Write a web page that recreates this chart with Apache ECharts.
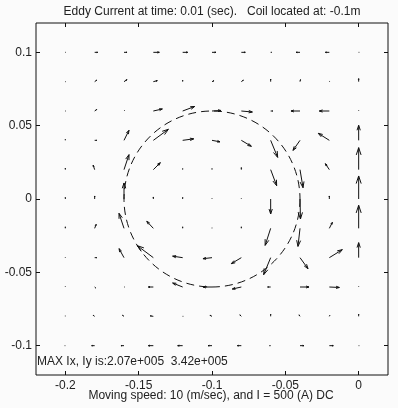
<!DOCTYPE html>
<html>
<head>
<meta charset="utf-8">
<title>Eddy Current</title>
<script src="https://cdn.jsdelivr.net/npm/echarts@6/dist/echarts.min.js"></script>
<style>
    html, body { margin: 0; padding: 0; background: #fbfbfb; }
    #chart { width: 398px; height: 408px; }
</style>
</head>
<body>
<div id="chart"></div>
<script>
// grid of sample points (m)
var gridX = [-0.2, -0.18, -0.16, -0.14, -0.12, -0.1, -0.08, -0.06, -0.04, -0.02, 0];
var gridY = [0.1, 0.08, 0.06, 0.04, 0.02, 0, -0.02, -0.04, -0.06, -0.08, -0.1];

// current density components, unit 1e4 A/m^2, one row per gridY value
var ixRows = [
    [0.7, 4.5, 4.5, 8.9, 7.4, 5.9, 5.9, 1.5, -5.9, -5.9, 0.7],
    [0.7, 3.0, 4.5, 5.9, 0, 3.0, 3.0, 0, 0.7, 0.7, 0],
    [0.7, 3.0, 0.7, 13.4, 17.8, 13.4, 16.4, 3.0, -13.4, -14.9, 0],
    [0, 3.0, 7.4, 22.3, 16.4, 11.9, 14.9, 10.4, -10.4, -16.4, 0],
    [0, -2.2, 7.4, 10.4, 0, 0, 0, 8.9, 4.5, -5.9, 0],
    [0, 0, 0, 0, 0, 0, 0, 0, 0.7, 0, 0],
    [0, 2.2, -7.4, -9.7, 0, 0, 0, -8.2, -3.0, 4.5, 0],
    [0, 3.0, -7.4, -23.8, -14.9, -13.4, -14.9, -10.4, 11.9, 19.3, 0],
    [0, 1.5, 0.7, -7.4, -14.9, -13.4, -13.4, -4.5, 13.4, 14.9, 0],
    [0, -2.2, -2.2, -4.5, 0.7, -3.0, -2.2, 0, -1.5, 0.7, 0],
    [-0.7, -4.5, -4.5, -7.4, -7.4, -5.9, -5.9, -1.5, 5.9, 5.9, 0.7]
];
var iyRows = [
    [0, 0, 0, 0, 0, 0, 0, 0, 0, 0, 0],
    [0, 2.2, 3.0, 1.5, 2.2, 1.5, 2.2, 3.7, 3.0, 0.7, 4.5],
    [0, 2.2, 0.7, 3.0, 6.7, 0.7, -1.5, 0, 0, 0, 0.7],
    [1.5, 0, 14.9, 16.4, 2.2, -2.2, -8.9, -25.3, -14.9, 10.4, 22.3],
    [2.2, 6.7, 22.3, 10.4, 1.5, 1.5, 3.0, -23.8, -26.8, 8.9, 32.7],
    [2.2, 4.5, 23.8, 3.0, 2.2, 0.7, 0.7, -22.3, -29.7, 4.5, 34.2],
    [2.2, 5.9, 22.3, 10.4, 2.2, 0.7, 2.2, -25.3, -26.8, 8.9, 34.2],
    [0.7, 0, 13.4, 17.8, 2.2, -1.5, -8.9, -25.3, -16.4, 11.9, 22.3],
    [0.7, -1.5, 0, 0, 5.9, 0, -3.0, 0, 0, -0.7, 0.7],
    [0.7, 1.5, 1.5, 0.7, 0, 1.5, 2.2, 3.0, 2.2, 1.5, 3.0],
    [0, 0, 0, 0, 0, 0, 0, 0, 0, 0, 0]
];

// coil outline: center x, center y, radius (m)
var coil = [-0.1, 0, 0.06];

var xTicks = [-0.2, -0.15, -0.1, -0.05, 0];
var yTicks = [-0.1, -0.05, 0, 0.05, 0.1];

var titleText = 'Eddy Current at time: 0.01 (sec).   Coil located at: -0.1m';
var xName = 'Moving speed: 10 (m/sec), and I = 500 (A) DC';
var maxText = 'MAX Ix, Iy is:2.07e+005  3.42e+005';

// metres of arrow per 1e4 A/m^2 (quiver auto scale)
var quiverScale = 0.000459;
var fontName = '"Liberation Sans", Arial, sans-serif';

function buildQuiverData() {
    var out = [];
    for (var r = 0; r < gridY.length; r++) {
        for (var c = 0; c < gridX.length; c++) {
            out.push([gridX[c], gridY[r], ixRows[r][c], iyRows[r][c]]);
        }
    }
    return out;
}

// arrow like matlab quiver: shaft + two barbs (alpha = beta = 0.33)
function renderArrow(params, api) {
    var x = api.value(0), y = api.value(1);
    var u = api.value(2) * quiverScale, v = api.value(3) * quiverScale;
    var p0 = api.coord([x, y]);
    var p1 = api.coord([x + u, y + v]);
    var dx = p1[0] - p0[0], dy = p1[1] - p0[1];
    var a = 0.33, b = 0.33;
    var h1 = [p1[0] - a * (dx + b * dy), p1[1] - a * (dy - b * dx)];
    var h2 = [p1[0] - a * (dx - b * dy), p1[1] - a * (dy + b * dx)];
    var style = { stroke: '#111', lineWidth: 1, fill: null };
    return {
        type: 'group',
        children: [
            { type: 'line', shape: { x1: p0[0], y1: p0[1], x2: p1[0], y2: p1[1] }, style: style },
            { type: 'polyline', shape: { points: [h1, p1, h2] }, style: style }
        ]
    };
}

function renderCoil(params, api) {
    var c = api.coord([api.value(0), api.value(1)]);
    var r = api.size([api.value(2), api.value(2)]);
    return {
        type: 'circle',
        shape: { cx: c[0], cy: c[1], r: r[0] },
        style: { stroke: '#111', lineWidth: 1, fill: null, lineDash: [8, 5] }
    };
}

function valueAxis(pos, min, max, ticks, showLabel, margin) {
    return {
        type: 'value',
        position: pos,
        min: min,
        max: max,
        axisLine: { show: false, onZero: false },
        splitLine: { show: false },
        axisTick: { show: true, inside: true, length: 4, customValues: ticks, lineStyle: { color: '#111' } },
        axisLabel: {
            show: showLabel,
            customValues: ticks,
            color: '#222',
            fontSize: 12,
            fontFamily: fontName,
            margin: margin
        }
    };
}

function textItem(str, x, y, align) {
    return {
        type: 'text', x: x, y: y, z: 10,
        style: { text: str, align: align, verticalAlign: 'middle', fill: '#222', fontSize: 12, fontFamily: fontName }
    };
}

var chart = echarts.init(document.getElementById('chart'), null, { renderer: 'canvas' });

var option = {
    backgroundColor: '#fbfbfb',
    animation: false,
    grid: {
        left: 36, top: 23, right: 10, bottom: 33,
        containLabel: false,
        outerBoundsMode: 'none',
        show: true, borderColor: '#111', borderWidth: 1, backgroundColor: 'transparent'
    },
    xAxis: [
        valueAxis('bottom', -0.22, 0.02, xTicks, true, 5),
        valueAxis('top', -0.22, 0.02, xTicks, false, 4)
    ],
    yAxis: [
        valueAxis('left', -0.12, 0.12, yTicks, true, 4),
        valueAxis('right', -0.12, 0.12, yTicks, false, 4)
    ],
    graphic: [
        textItem(titleText, 212, 12, 'center'),
        textItem(xName, 211, 396, 'center'),
        textItem(maxText, 37, 362, 'left')
    ],
    series: [
        {
            name: 'coil',
            type: 'custom',
            renderItem: renderCoil,
            data: [coil],
            encode: { x: 0, y: 1 },
            silent: true
        },
        {
            name: 'eddy',
            type: 'custom',
            renderItem: renderArrow,
            data: buildQuiverData(),
            encode: { x: 0, y: 1 },
            silent: true,
            clip: true
        }
    ]
};

chart.setOption(option);
</script>
</body>
</html>
